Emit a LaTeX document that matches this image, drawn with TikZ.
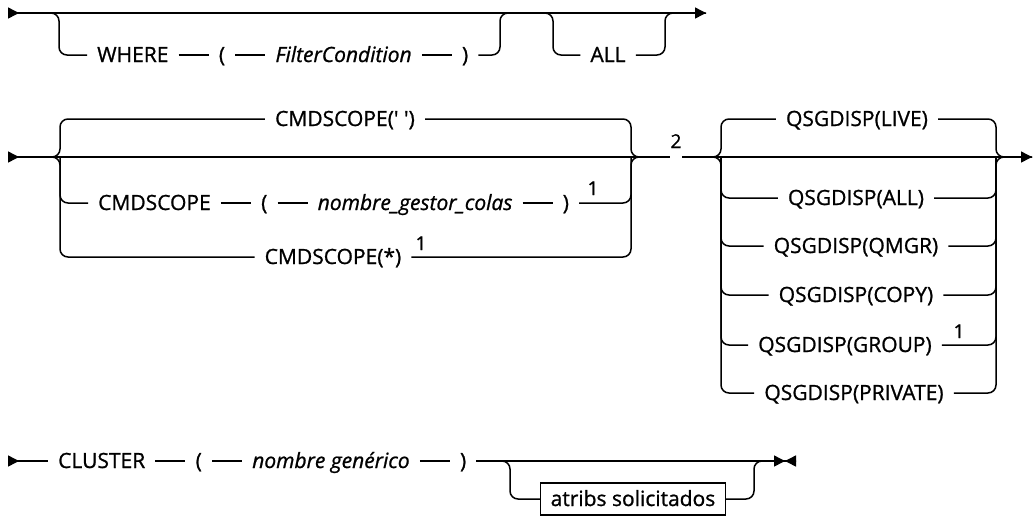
\documentclass[tikz,border=0pt]{standalone}
\usepackage{fontspec}
\setmainfont{Open Sans}[FakeBold=1]
\usetikzlibrary{arrows.meta,positioning}
\tikzset{
  rail/.style={line width=1.5pt},
  branch/.style={rail,rounded corners=8pt},
  tok/.style={inner xsep=10pt,inner ysep=0pt,text height=15pt,text depth=1pt,font=\fontsize{21}{24}\selectfont},
  var/.style={tok,font=\fontsize{21}{24}\selectfont\itshape},
  fn/.style={inner sep=0pt,anchor=base,font=\fontsize{19}{20}\selectfont},
  boxed/.style={tok,draw,line width=1.5pt,minimum height=32pt,inner xsep=10pt},
  startmark/.style={{Triangle[reversed,length=11pt,width=11pt]}-},
  railarrow/.style={{Triangle[reversed,length=11pt,width=11pt]}-{Triangle[length=11pt,width=11pt]}},
  stopmark/.style={-{Triangle[length=11pt,width=11pt]Triangle[reversed,length=11pt,width=11pt]}}
}
\begin{document}
\begin{tikzpicture}[x=1pt,y=-1pt,node distance=30pt]
  \useasboundingbox (0,0) rectangle (1034,523);
  % WHERE / ALL
  \coordinate (s1) at (8,13);
  \coordinate (e1) at (706,13);
  \coordinate (wL) at (59,13);
  \coordinate (wR) at (500,13);
  \coordinate (aL) at (553,13);
  \coordinate (aR) at (665,13);
  \node[tok,anchor=west] (where) at (87,55) {WHERE};
  \node[tok,right=of where] (lp1) {(};
  \node[var,right=of lp1] (filter) {FilterCondition\hspace{6pt}};
  \node[tok,right=of filter] (rp1) {)};
  \node[tok] (all) at (608,55) {ALL};
  \draw[rail,railarrow] (s1) -- (e1);
  \draw[branch] (s1) -- (wL) -- (wL |- where) -- (where);
  \draw[rail] (where) -- (lp1) -- (filter) -- (rp1);
  \draw[branch] (rp1) -- (wR |- rp1) -- (wR) -- (aL);
  \draw[branch] (wR) -- (aL) -- (aL |- all) -- (all) -- (aR |- all) -- (aR) -- (e1);

  % CMDSCOPE / QSGDISP
  \coordinate (s2) at (8,157);
  \coordinate (e2) at (1032,157);
  \coordinate (cL) at (60,157);
  \coordinate (cR) at (631,157);
  \coordinate (qL) at (721,157);
  \coordinate (qR) at (996,157);
  \node[tok] (blank) at (345,119) {CMDSCOPE(\textquotesingle\ \textquotesingle)};
  \node[tok,anchor=west] (cmd) at (88,203) {CMDSCOPE};
  \node[tok,right=of cmd] (lp2) {(};
  \node[var,right=of lp2] (qmname) {nombre\_gestor\_colas\hspace{6pt}};
  \node[tok,right=of qmname] (rp2) {)};
  \node[fn] (fa) at (593,195) {1};
  \node[tok] (star) at (333,257) {CMDSCOPE(*)};
  \node[fn] (fb) at (421,250) {1};
  \node[tok] (live) at (857,119) {QSGDISP(LIVE)};
  \node[tok] (qall) at (856,198) {QSGDISP(ALL)};
  \node[tok] (qmgr) at (856,246) {QSGDISP(QMGR)};
  \node[tok] (copy) at (856,295) {QSGDISP(COPY)};
  \node[tok] (group) at (845,345) {QSGDISP(GROUP)};
  \node[fn] (fc) at (959,338) {1};
  \node[tok] (private) at (854,393) {QSGDISP(PRIVATE)};
  \draw[rail,railarrow] (s2) -- (e2);
  \draw[branch] (s2) -- (cL) -- (cL |- blank) -- (blank) -- (cR |- blank) -- (cR) -- (qL);
  \draw[branch] (s2) -- (cL) -- (cL |- star) -- (star) -- (cR |- star) -- (cR) -- (qL);
  \draw[branch] (cL) -- (cL |- cmd) -- (cmd);
  \draw[rail] (cmd) -- (lp2) -- (qmname) -- (rp2);
  \draw[branch] (rp2) -- (cR |- rp2) -- (cR);
  \draw[branch] (cR) -- (qL) -- (qL |- live) -- (live) -- (qR |- live) -- (qR) -- (e2);
  \draw[branch] (cR) -- (qL) -- (qL |- private) -- (private) -- (qR |- private) -- (qR) -- (e2);
  \foreach \opt in {qall,qmgr,copy,group}
    \draw[branch] (qL) -- (qL |- \opt) -- (\opt) -- (qR |- \opt) -- (qR);
  \node[fn,fill=white,text depth=13pt,inner sep=1pt] (two) at (676,148) {2};

  % CLUSTER
  \coordinate (s3) at (8,461);
  \coordinate (e3) at (796,461);
  \coordinate (bL) at (510,461);
  \coordinate (bR) at (754,461);
  \node[tok,anchor=west] (cluster) at (48,461) {CLUSTER};
  \node[tok,right=of cluster] (lp3) {(};
  \node[var,right=of lp3] (gname) {nombre genérico\hspace{6pt}};
  \node[tok,right=of gname] (rp3) {)};
  \node[boxed] (attrs) at (633,499) {atribs solicitados};
  \draw[rail,startmark] (s3) -- (cluster);
  \draw[rail] (cluster) -- (lp3) -- (gname) -- (rp3);
  \draw[rail,stopmark] (rp3) -- (e3);
  \draw[branch] (rp3) -- (bL) -- (bL |- attrs) -- (attrs) -- (bR |- attrs) -- (bR) -- (e3);
\end{tikzpicture}
\end{document}
